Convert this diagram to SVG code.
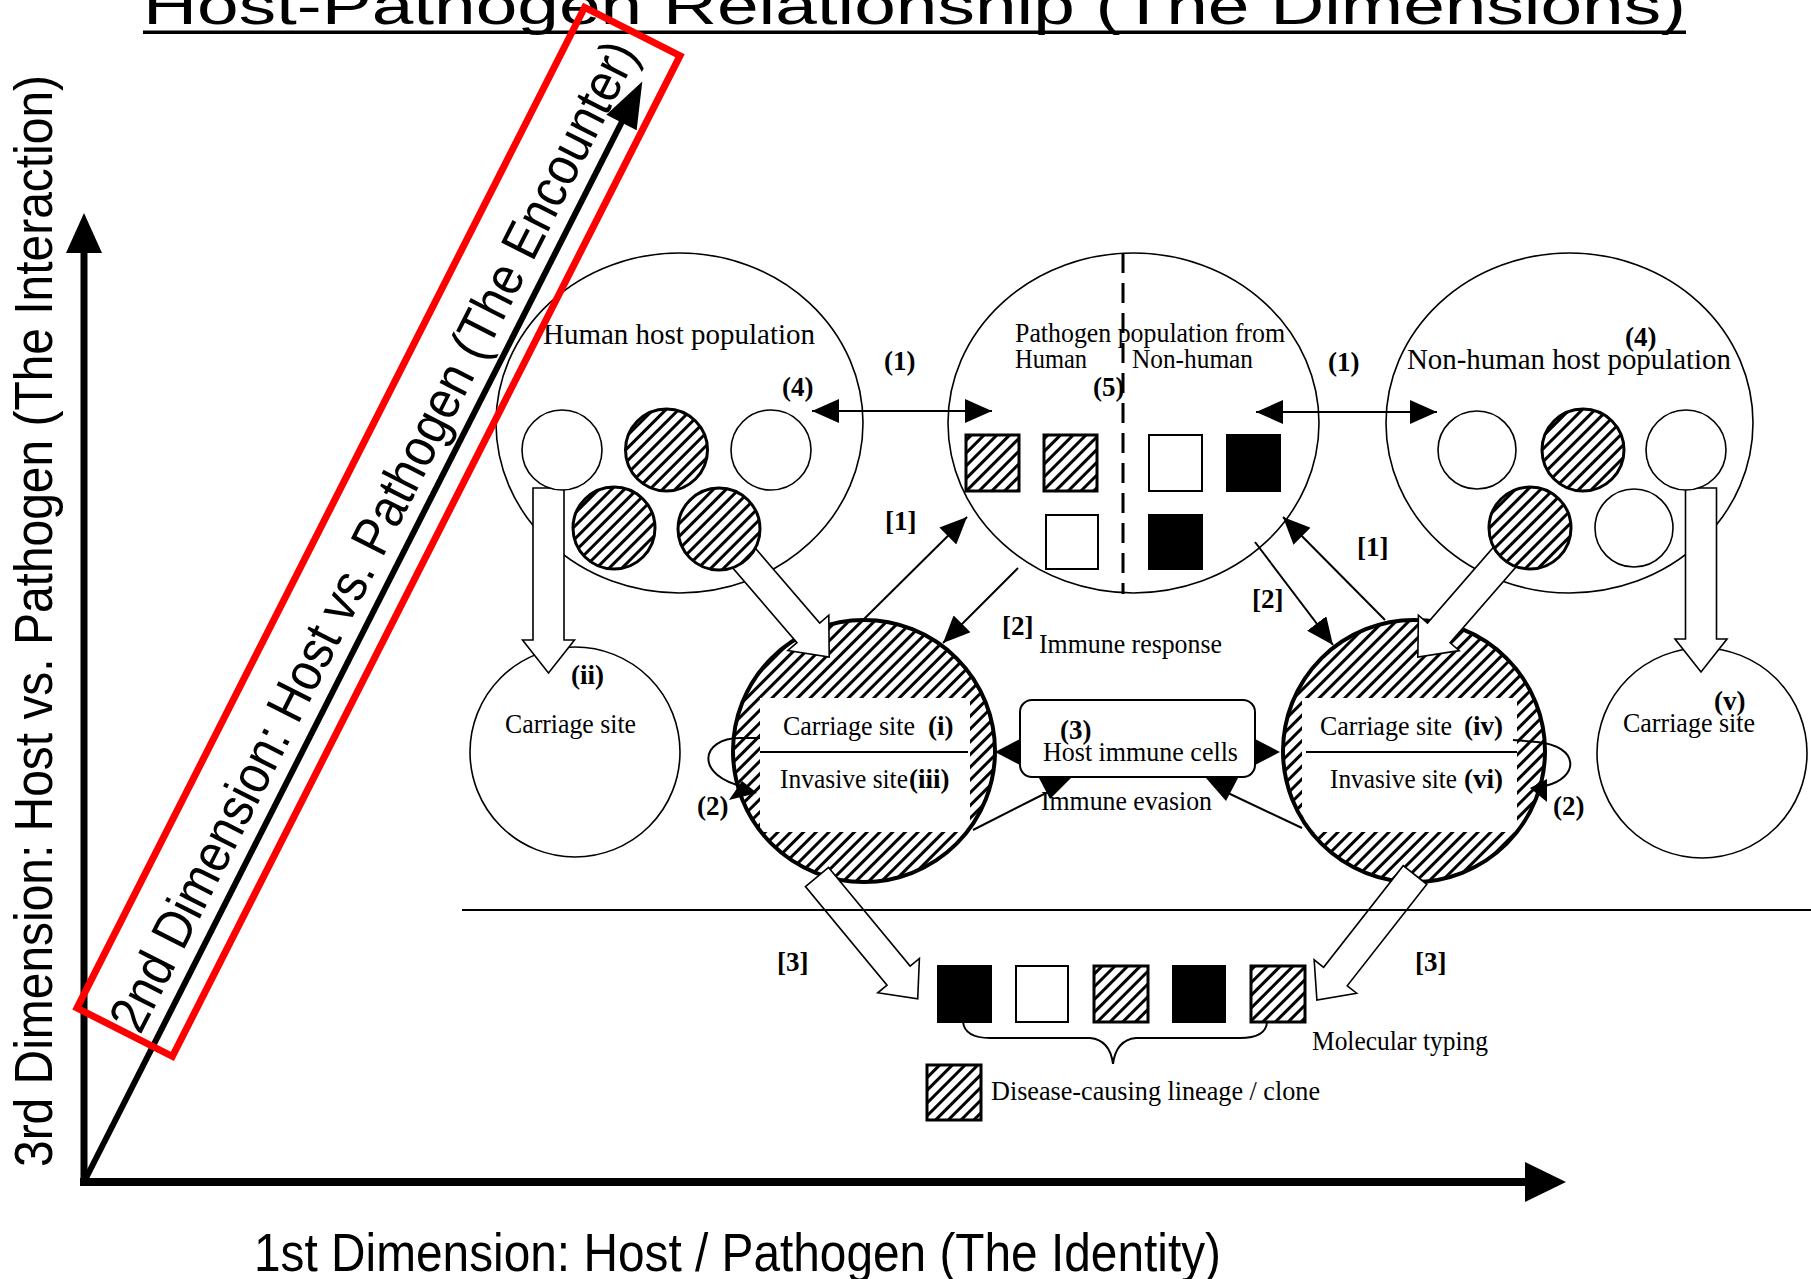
<svg xmlns="http://www.w3.org/2000/svg" width="1811" height="1279" viewBox="0 0 1811 1279">
<style>
.t{font-family:"Liberation Serif","Times New Roman",serif;font-size:28px;fill:#000}
.p{font-family:"Liberation Serif","Times New Roman",serif;font-size:30px;fill:#000}
.b{font-family:"Liberation Serif","Times New Roman",serif;font-size:27px;font-weight:bold;fill:#000}
.ax{font-family:"Liberation Sans",Arial,sans-serif;font-size:54px;fill:#000}
.thin{fill:none;stroke:#000;stroke-width:1.6}
.open{fill:#fff;stroke:#000;stroke-width:1.6}
.hc{fill:url(#hatch);stroke:#000;stroke-width:3}
.sqh{fill:url(#hatch);stroke:#000;stroke-width:3}
.sqo{fill:#fff;stroke:#000;stroke-width:2}
.sqb{fill:#000;stroke:#000;stroke-width:2}
.blk{fill:#fff;stroke:#000;stroke-width:1.6;stroke-linejoin:miter}
.con{fill:none;stroke:#000;stroke-width:2}
.tri{fill:#000}
</style>
<defs>
<pattern id="hatch" patternUnits="userSpaceOnUse" width="9" height="9" patternTransform="rotate(45)">
<rect width="9" height="9" fill="#fff"/>
<line x1="4.5" y1="0" x2="4.5" y2="9" stroke="#000" stroke-width="3"/>
</pattern>
<marker id="ah" viewBox="0 0 27 24" refX="27" refY="12" markerWidth="27" markerHeight="24" markerUnits="userSpaceOnUse" orient="auto-start-reverse">
<path d="M0,0L27,12L0,24z" fill="#000"/>
</marker>
<clipPath id="clipL"><circle cx="864" cy="751" r="129"/></clipPath>
<clipPath id="clipR"><circle cx="1414" cy="751" r="129"/></clipPath>
</defs>
<rect width="1811" height="1279" fill="#fff"/>

<g id="title">
<text class="ax" x="143" y="24" font-size="60" textLength="1543" lengthAdjust="spacingAndGlyphs">Host-Pathogen Relationship (The Dimensions)</text>
<rect x="143" y="30.5" width="1543" height="3.5" fill="#000"/>
</g>

<g id="human-host-population">
<ellipse class="thin" cx="679.5" cy="423" rx="183.5" ry="170"/>
<text class="p" x="543" y="344" textLength="272" lengthAdjust="spacingAndGlyphs">Human host population</text>
</g>

<g id="pathogen-population">
<ellipse class="thin" cx="1133.5" cy="423" rx="185.5" ry="170"/>
<line x1="1123" y1="253" x2="1123" y2="594" stroke="#000" stroke-width="3" stroke-dasharray="20 10"/>
<text class="t" x="1015" y="342" textLength="270" lengthAdjust="spacingAndGlyphs">Pathogen population from</text>
<text class="t" x="1015" y="368" textLength="72" lengthAdjust="spacingAndGlyphs">Human</text>
<text class="t" x="1132" y="368" textLength="121" lengthAdjust="spacingAndGlyphs">Non-human</text>
<text class="b" x="1093" y="396">(5)</text>
<rect class="sqh" x="966" y="435" width="53" height="56"/>
<rect class="sqh" x="1044" y="435" width="53" height="56"/>
<rect class="sqo" x="1149" y="435" width="53" height="56"/>
<rect class="sqb" x="1227" y="435" width="53" height="56"/>
<rect class="sqo" x="1046" y="515" width="52" height="54"/>
<rect class="sqb" x="1149" y="515" width="53" height="54"/>
</g>

<g id="nonhuman-host-population">
<ellipse class="thin" cx="1569.5" cy="423" rx="183.5" ry="170"/>
<text class="p" x="1407" y="369" textLength="324" lengthAdjust="spacingAndGlyphs">Non-human host population</text>
</g>

<g id="carriage-site-ii">
<circle class="open" cx="575" cy="752" r="105"/>
<text class="b" x="571" y="684">(ii)</text>
<text class="t" x="505" y="733" textLength="131" lengthAdjust="spacingAndGlyphs">Carriage site</text>
</g>

<g id="carriage-site-v">
<circle class="open" cx="1702" cy="753" r="105"/>
<text class="b" x="1714" y="710">(v)</text>
<text class="t" x="1623" y="732" textLength="132" lengthAdjust="spacingAndGlyphs">Carriage site</text>
</g>

<g id="host-site-left">
<circle cx="864" cy="751" r="131" fill="url(#hatch)"/>
<rect x="760" y="698" width="210" height="134" fill="#fff" clip-path="url(#clipL)"/>
<circle cx="864" cy="751" r="131" fill="none" stroke="#000" stroke-width="4"/>
<line x1="760" y1="752" x2="968" y2="752" stroke="#000" stroke-width="2"/>
<text class="t" x="783" y="735" textLength="132" lengthAdjust="spacingAndGlyphs">Carriage site</text>
<text class="b" x="928" y="735">(i)</text>
<text class="t" x="780" y="788" textLength="128" lengthAdjust="spacingAndGlyphs">Invasive site</text>
<text class="b" x="909" y="788">(iii)</text>
</g>

<g id="host-site-right">
<circle cx="1414" cy="751" r="131" fill="url(#hatch)"/>
<rect x="1302" y="698" width="215" height="134" fill="#fff" clip-path="url(#clipR)"/>
<circle cx="1414" cy="751" r="131" fill="none" stroke="#000" stroke-width="4"/>
<line x1="1306" y1="752" x2="1517" y2="752" stroke="#000" stroke-width="2"/>
<text class="t" x="1320" y="735" textLength="132" lengthAdjust="spacingAndGlyphs">Carriage site</text>
<text class="b" x="1464" y="735">(iv)</text>
<text class="t" x="1330" y="788" textLength="127" lengthAdjust="spacingAndGlyphs">Invasive site</text>
<text class="b" x="1464" y="788">(vi)</text>
</g>

<g id="block-arrows">
<polygon class="blk" transform="translate(548.5,488) rotate(90)" points="0,-15.5 152,-15.5 152,-26 185,0 152,26 152,15.5 0,15.5"/>
<polygon class="blk" transform="translate(1701,488) rotate(90)" points="0,-15.5 151,-15.5 151,-26 184,0 151,26 151,15.5 0,15.5"/>
<polygon class="blk" transform="translate(719,529) rotate(49.3)" points="0,-15 137,-15 137,-27 169,0 137,27 137,15 0,15"/>
<polygon class="blk" transform="translate(1530,528) rotate(131)" points="0,-15 139,-15 139,-27 171,0 139,27 139,15 0,15"/>
<polygon class="blk" transform="translate(817,877) rotate(50.4)" points="0,-15 128,-15 128,-27 158,0 128,27 128,15 0,15"/>
<polygon class="blk" transform="translate(1415,875) rotate(128.1)" points="0,-15 129,-15 129,-27 159,0 129,27 129,15 0,15"/>
</g>

<g id="human-hosts">
<circle class="open" cx="562" cy="450" r="40"/>
<circle class="hc" cx="666.5" cy="450" r="41"/>
<circle class="open" cx="771" cy="450" r="40"/>
<circle class="hc" cx="614" cy="528" r="41"/>
<circle class="hc" cx="719" cy="529" r="41"/>
</g>

<g id="nonhuman-hosts">
<circle class="open" cx="1477" cy="450" r="39"/>
<circle class="hc" cx="1583" cy="450" r="41"/>
<circle class="open" cx="1686" cy="450" r="40"/>
<circle class="hc" cx="1530" cy="528" r="41"/>
<circle class="open" cx="1634" cy="528" r="39"/>
</g>

<g id="connectors">
<line class="con" x1="812" y1="411" x2="992" y2="411" marker-start="url(#ah)" marker-end="url(#ah)"/>
<line class="con" x1="1256" y1="412" x2="1437" y2="412" marker-start="url(#ah)" marker-end="url(#ah)"/>
<line class="con" x1="863" y1="620" x2="967" y2="517" marker-end="url(#ah)"/>
<line class="con" x1="1018" y1="568" x2="943" y2="643" marker-end="url(#ah)"/>
<line class="con" x1="1385" y1="620" x2="1283" y2="517" marker-end="url(#ah)"/>
<line class="con" x1="1255" y1="542" x2="1333" y2="645" marker-end="url(#ah)"/>
<line class="con" x1="973" y1="830" x2="1048" y2="792"/>
<line class="con" x1="1302" y1="828" x2="1228" y2="793"/>
<polygon class="tri" points="1039,778 1071,778 1050,799"/>
<polygon class="tri" points="1206,778 1238,778 1226,801"/>
<polygon class="tri" points="995,752 1020,739 1020,765"/>
<polygon class="tri" points="1280,752 1255,739 1255,765"/>
<path class="con" d="M760,738 L740,738 C700,738 694,776 745,787"/>
<polygon class="tri" points="729,800 742,781 757,793"/>
<path class="con" d="M1513,740 L1537,742 C1580,746 1580,778 1545,786"/>
<polygon class="tri" points="1547,802 1530,788 1547,779"/>
<path class="con" d="M963,1022 Q965,1038 990,1038 L1090,1038 Q1110,1040 1113,1064 Q1116,1040 1136,1038 L1240,1038 Q1266,1038 1267,1022" stroke-width="1.6"/>
</g>

<g id="host-immune-cells">
<rect x="1020" y="700" width="235" height="77" rx="12" fill="#fff" stroke="#000" stroke-width="2"/>
<text class="b" x="1060" y="739">(3)</text>
<text class="t" x="1043" y="761" textLength="195" lengthAdjust="spacingAndGlyphs">Host immune cells</text>
</g>

<g id="labels">
<text class="b" x="884" y="370">(1)</text>
<text class="b" x="1328" y="371">(1)</text>
<text class="b" x="782" y="396">(4)</text>
<text class="b" x="1625" y="346">(4)</text>
<text class="b" x="885" y="530">[1]</text>
<text class="b" x="1357" y="556">[1]</text>
<text class="b" x="1002" y="635">[2]</text>
<text class="b" x="1252" y="608">[2]</text>
<text class="t" x="1039" y="653" textLength="183" lengthAdjust="spacingAndGlyphs">Immune response</text>
<text class="t" x="1041" y="810" textLength="171" lengthAdjust="spacingAndGlyphs">Immune evasion</text>
<text class="b" x="697" y="815">(2)</text>
<text class="b" x="1553" y="815">(2)</text>
<text class="b" x="777" y="971">[3]</text>
<text class="b" x="1415" y="971">[3]</text>
</g>

<line id="separator" x1="462" y1="910" x2="1811" y2="910" stroke="#000" stroke-width="2"/>

<g id="molecular-typing">
<rect class="sqb" x="938" y="966" width="53" height="56"/>
<rect class="sqo" x="1016" y="966" width="52" height="56"/>
<rect class="sqh" x="1094" y="966" width="54" height="56"/>
<rect class="sqb" x="1173" y="966" width="52" height="56"/>
<rect class="sqh" x="1251" y="966" width="54" height="56"/>
<text class="t" x="1312" y="1050" textLength="176" lengthAdjust="spacingAndGlyphs">Molecular typing</text>
</g>

<g id="legend">
<rect class="sqh" x="927" y="1065" width="54" height="55"/>
<text class="t" x="991" y="1100" textLength="329" lengthAdjust="spacingAndGlyphs">Disease-causing lineage / clone</text>
</g>

<g id="axis-1">
<line x1="80" y1="1182" x2="1530" y2="1182" stroke="#000" stroke-width="8"/>
<polygon points="1566,1182 1525,1162 1525,1202" fill="#000"/>
<text class="ax" x="254" y="1271" textLength="967" lengthAdjust="spacingAndGlyphs">1st Dimension: Host / Pathogen (The Identity)</text>
</g>

<g id="axis-3">
<line x1="84" y1="1186" x2="84" y2="248" stroke="#000" stroke-width="7"/>
<polygon points="84,213 66,253 102,253" fill="#000"/>
<text class="ax" transform="translate(52,1167) rotate(-90)" x="0" y="0" textLength="1092" lengthAdjust="spacingAndGlyphs">3rd Dimension: Host vs. Pathogen (The Interaction)</text>
</g>

<g id="axis-2" transform="translate(84,1182) rotate(-63.1)">
<line x1="0" y1="0" x2="1195" y2="0" stroke="#000" stroke-width="6"/>
<polygon points="1234,0 1188,-17 1188,17" fill="#000"/>
<rect x="152" y="-85" width="1122" height="107" fill="none" stroke="#ff0000" stroke-width="7"/>
<text class="ax" x="156" y="-16" textLength="1102" lengthAdjust="spacingAndGlyphs">2nd Dimension: Host vs. Pathogen (The Encounter)</text>
</g>
</svg>
